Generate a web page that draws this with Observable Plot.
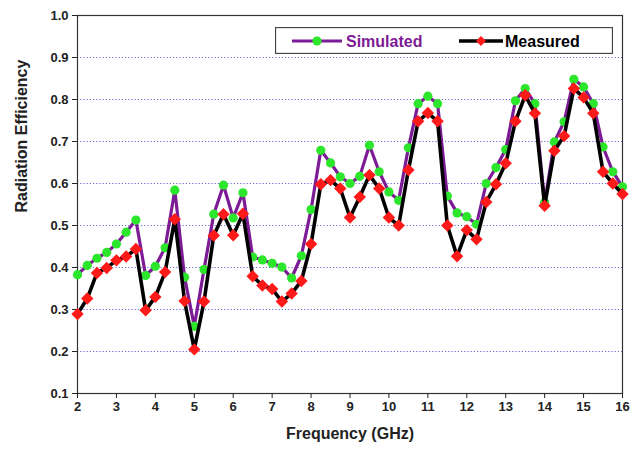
<!DOCTYPE html>
<html>
<head>
<meta charset="utf-8">
<script src="https://cdn.jsdelivr.net/npm/d3@7"></script>
<script src="https://cdn.jsdelivr.net/npm/@observablehq/plot@0.6"></script>
<style>
  html, body { margin: 0; padding: 0; background: #fff; }
  #wrap { position: relative; width: 636px; height: 449px; }
  #legend { position: absolute; left: 275px; top: 27px; }
</style>
</head>
<body>
<div id="wrap"></div>
<script>
const frequency = [2.0,2.25,2.5,2.75,3.0,3.25,3.5,3.75,4.0,4.25,4.5,4.75,5.0,5.25,5.5,5.75,6.0,6.25,6.5,6.75,7.0,7.25,7.5,7.75,8.0,8.25,8.5,8.75,9.0,9.25,9.5,9.75,10.0,10.25,10.5,10.75,11.0,11.25,11.5,11.75,12.0,12.25,12.5,12.75,13.0,13.25,13.5,13.75,14.0,14.25,14.5,14.75,15.0,15.25,15.5,15.75,16.0];
const simulated = [0.383,0.405,0.422,0.436,0.456,0.484,0.513,0.381,0.403,0.447,0.584,0.377,0.260,0.395,0.527,0.596,0.518,0.578,0.425,0.418,0.410,0.401,0.375,0.428,0.538,0.679,0.649,0.616,0.600,0.617,0.691,0.628,0.580,0.560,0.685,0.790,0.808,0.790,0.570,0.530,0.521,0.503,0.600,0.638,0.681,0.797,0.826,0.790,0.555,0.699,0.747,0.848,0.830,0.790,0.687,0.628,0.592];
const measured = [0.289,0.326,0.387,0.399,0.417,0.426,0.444,0.298,0.330,0.389,0.515,0.320,0.205,0.319,0.476,0.527,0.477,0.528,0.379,0.357,0.349,0.319,0.338,0.368,0.456,0.598,0.608,0.588,0.519,0.568,0.620,0.588,0.519,0.500,0.632,0.748,0.768,0.748,0.500,0.427,0.489,0.467,0.556,0.598,0.648,0.748,0.810,0.767,0.547,0.678,0.713,0.826,0.805,0.767,0.628,0.600,0.575];
const xTicks = [2,3,4,5,6,7,8,9,10,11,12,13,14,15,16];
const yTicks = [0.1,0.2,0.3,0.4,0.5,0.6,0.7,0.8,0.9,1.0];
const gridValues = [0.2,0.3,0.4,0.5,0.6,0.7,0.8,0.9];
const seriesNames = ["Simulated", "Measured"];

const simData = frequency.map((f, i) => ({f, v: simulated[i]}));
const meaData = frequency.map((f, i) => ({f, v: measured[i]}));

const chart = Plot.plot({
  width: 636,
  height: 449,
  marginLeft: 77,
  marginRight: 14,
  marginTop: 15,
  marginBottom: 56,
  style: {fontFamily: "'Liberation Sans', Arial, sans-serif", fontWeight: "bold", fontSize: "13px", background: "#fff", color: "#222"},
  x: {domain: [2, 16]},
  y: {domain: [0.1, 1.0]},
  marks: [
    Plot.gridY(gridValues, {stroke: "#6a6ad8", strokeOpacity: 1, strokeWidth: 1, strokeDasharray: "1.2,2"}),
    Plot.frame({stroke: "#333", strokeWidth: 1.2}),
    Plot.axisX({ticks: xTicks, tickSize: 5, tickPadding: 3, tickFormat: d => String(d), label: null, fontSize: 13, fontWeight: "bold"}),
    Plot.axisY({ticks: yTicks, tickSize: 5, tickPadding: 4, tickFormat: d3.format(".1f"), label: null, fontSize: 13, fontWeight: "bold"}),
    Plot.text(["Frequency (GHz)"], {frameAnchor: "bottom", dy: 45, fontSize: 16, fontWeight: "bold", fill: "#222"}),
    Plot.text(["Radiation Efficiency"], {frameAnchor: "left", rotate: -90, dx: -56, dy: 8, fontSize: 16, fontWeight: "bold", fill: "#222"}),
    Plot.line(simData, {x: "f", y: "v", stroke: "#7d1a95", strokeWidth: 3.2}),
    Plot.dot(simData, {x: "f", y: "v", r: 4.6, fill: "#2be62b", stroke: "none"}),
    Plot.line(meaData, {x: "f", y: "v", stroke: "#000", strokeWidth: 3.6}),
    Plot.dot(meaData, {x: "f", y: "v", symbol: "diamond2", r: 5.6, fill: "#ff1a1a", stroke: "none"})
  ]
});

const wrap = document.getElementById("wrap");
wrap.appendChild(chart);

// Legend (overlay)
const lg = document.createElementNS("http://www.w3.org/2000/svg", "svg");
lg.setAttribute("id", "legend");
lg.setAttribute("width", 338);
lg.setAttribute("height", 27);
const sel = d3.select(lg);
sel.append("rect").attr("x", 0.5).attr("y", 0.5).attr("width", 337).attr("height", 26)
  .attr("fill", "#fff").attr("stroke", "#444").attr("stroke-width", 1.3);
// Simulated
sel.append("line").attr("x1", 17).attr("x2", 67).attr("y1", 14).attr("y2", 14)
  .attr("stroke", "#7d1a95").attr("stroke-width", 3.2);
sel.append("circle").attr("cx", 42).attr("cy", 14).attr("r", 4.6).attr("fill", "#2be62b");
sel.append("text").attr("x", 71).attr("y", 19.5).text(seriesNames[0])
  .attr("fill", "#7d1a95").attr("font-family", "'Liberation Sans', Arial, sans-serif")
  .attr("font-weight", "bold").attr("font-size", 16);
// Measured
sel.append("line").attr("x1", 184).attr("x2", 228).attr("y1", 14).attr("y2", 14)
  .attr("stroke", "#000").attr("stroke-width", 3.6);
sel.append("path").attr("d", d3.symbol(d3.symbolDiamond2, 62)()).attr("transform", "translate(206,14)")
  .attr("fill", "#ff1a1a");
sel.append("text").attr("x", 230).attr("y", 19.5).text(seriesNames[1])
  .attr("fill", "#000").attr("font-family", "'Liberation Sans', Arial, sans-serif")
  .attr("font-weight", "bold").attr("font-size", 16);
wrap.appendChild(lg);
</script>
</body>
</html>
